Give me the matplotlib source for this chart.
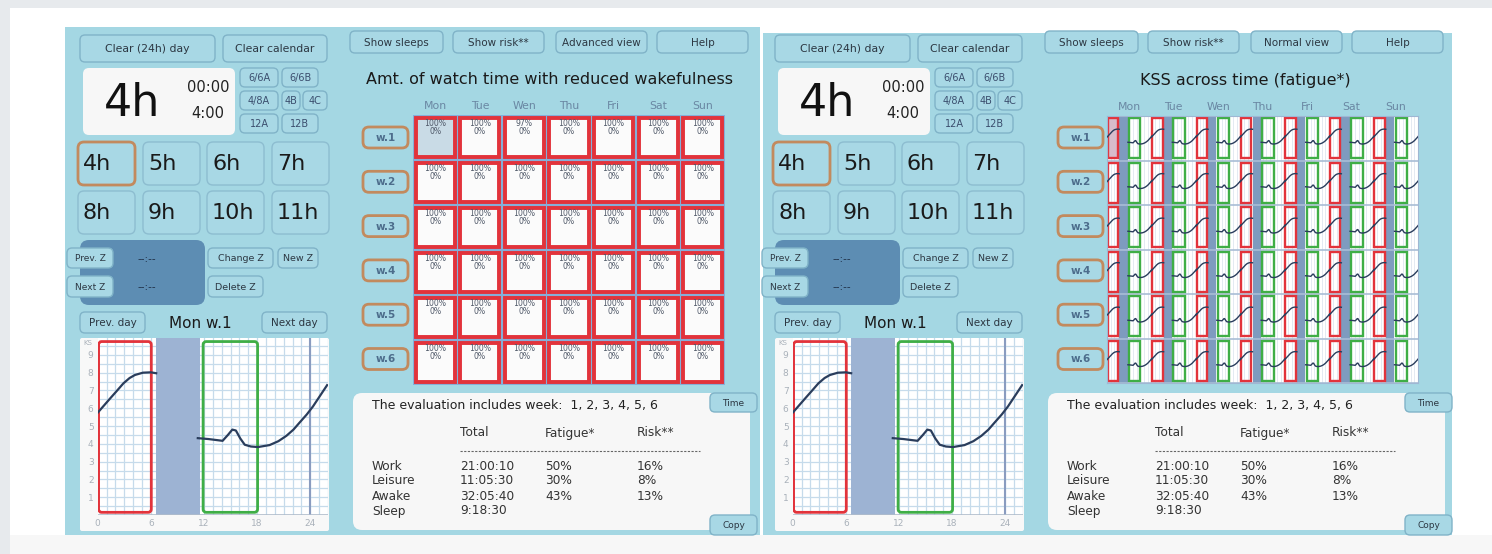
import numpy as np
import matplotlib
matplotlib.use("Agg")
import matplotlib.pyplot as plt
from matplotlib.patches import FancyBboxPatch, Rectangle

W, H = 1492, 554

# values
days = ["Mon", "Tue", "Wen", "Thu", "Fri", "Sat", "Sun"]
weeks = ["w.1", "w.2", "w.3", "w.4", "w.5", "w.6"]
watch_pct = [
    [100, 100, 97, 100, 100, 100, 100],
    [100, 100, 100, 100, 100, 100, 100],
    [100, 100, 100, 100, 100, 100, 100],
    [100, 100, 100, 100, 100, 100, 100],
    [100, 100, 100, 100, 100, 100, 100],
    [100, 100, 100, 100, 100, 100, 100],
]
risk_pct = [
    [0, 0, 0, 0, 0, 0, 0],
    [0, 0, 0, 0, 0, 0, 0],
    [0, 0, 0, 0, 0, 0, 0],
    [0, 0, 0, 0, 0, 0, 0],
    [0, 0, 0, 0, 0, 0, 0],
    [0, 0, 0, 0, 0, 0, 0],
]
hour_labels = ["4h", "5h", "6h", "7h", "8h", "9h", "10h", "11h"]
preset_labels = ["6/6A", "6/6B", "4/8A", "4B", "4C", "12A", "12B"]
shift_len = "4h"
shift_start = "00:00"
shift_dur = "4:00"
day_name = "Mon w.1"

# KSS curve of the selected day (hours, KSS)
kss_h1 = [0, 0.7, 1.4, 2.2, 2.9, 3.6, 4.2, 5.1, 6.0, 6.6]
kss_v1 = [5.75, 6.15, 6.55, 7.0, 7.4, 7.7, 7.87, 8.0, 8.02, 7.97]
kss_h2 = [11.3, 12.5, 14.1, 14.7, 15.2, 15.6, 16.1, 16.6, 17.3, 18.1, 19.4,
          20.4, 21.3, 22.1, 22.8, 23.6, 24.3, 25.1, 25.9]
kss_v2 = [4.32, 4.27, 4.17, 4.5, 4.8, 4.75, 4.3, 3.95, 3.85, 3.82, 3.93,
          4.15, 4.45, 4.8, 5.2, 5.65, 6.1, 6.7, 7.3]
work_hours = (0.1, 6.05)
sleep_hours = (6.6, 11.5)
leisure_hours = (11.9, 18.05)

eval_weeks = [1, 2, 3, 4, 5, 6]
col_names = ["Total", "Fatigue*", "Risk**"]
row_names = ["Work", "Leisure", "Awake", "Sleep"]
totals = ["21:00:10", "11:05:30", "32:05:40", "9:18:30"]
fatigue = ["50%", "30%", "43%", ""]
risk = ["16%", "8%", "13%", ""]

PANEL = '#a4d7e3'
BTN = '#a8d8e5'
BTN_EDGE = '#80b3c8'
TXT = '#2c3742'
DARK = '#5d8db3'
ORANGE = '#c28a5e'
RED = '#e2333b'
GREEN = '#3fae46'
SLEEP = '#9db3d3'
SLEEP_MINI = '#7e9bbf'
LINE = '#2a3d5c'
GRIDC = '#c6dbeb'

fig = plt.figure(figsize=(W / 100, H / 100), dpi=100, facecolor='white')
bg = fig.add_axes([0, 0, 1, 1])
bg.set_xlim(0, W)
bg.set_ylim(H, 0)
bg.axis('off')


def px_axes(x0, y0, x1, y1):
    a = fig.add_axes([x0 / W, 1 - y1 / H, (x1 - x0) / W, (y1 - y0) / H])
    a.set_xticks([])
    a.set_yticks([])
    for s in a.spines.values():
        s.set_visible(False)
    return a


def box(x0, y0, x1, y1, fc, ec='none', lw=1.0, r=4):
    bg.add_patch(FancyBboxPatch((x0, y0), x1 - x0, y1 - y0,
                                boxstyle=f"round,pad=0,rounding_size={r}",
                                fc=fc, ec=ec, lw=lw))


def button(x0, y0, x1, y1, label, fs=7.8, ec=BTN_EDGE, lw=1.0, color=TXT, r=5,
           weight='normal'):
    box(x0, y0, x1, y1, BTN, ec, lw, r)
    bg.text((x0 + x1) / 2, (y0 + y1) / 2 + 0.5, label, fontsize=fs, color=color,
            ha='center', va='center', fontweight=weight)


# page background
bg.add_patch(Rectangle((0, 0), W, 8, fc='#e7eaed', ec='none'))
bg.add_patch(Rectangle((0, 0), 10, H, fc='#e7eaed', ec='none'))
bg.add_patch(Rectangle((10, 535), W, H, fc='#f7f7f7', ec='none'))
bg.add_patch(Rectangle((65, 27), 695, 508, fc=PANEL, ec='none'))
bg.add_patch(Rectangle((763, 33), 689, 502, fc=PANEL, ec='none'))


def controls(dx):
    button(80 + dx, 35, 215 + dx, 62, "Clear (24h) day")
    button(223 + dx, 35, 327 + dx, 62, "Clear calendar")
    box(83 + dx, 68, 235 + dx, 135, '#f7f7f7', r=6)
    bg.text(132 + dx, 104, shift_len, fontsize=32, ha='center', va='center', color='#111')
    bg.text(208 + dx, 88, shift_start, fontsize=10.5, ha='center', va='center', color='#222')
    bg.text(208 + dx, 113, shift_dur, fontsize=10.5, ha='center', va='center', color='#222')
    spots = [(240, 68, 278, 87), (282, 68, 318, 87), (240, 91, 278, 110),
             (282, 91, 300, 110), (303, 91, 327, 110), (240, 114, 278, 133),
             (282, 114, 318, 133)]
    for lab, (x0, y0, x1, y1) in zip(preset_labels, spots):
        button(x0 + dx, y0, x1 + dx, y1, lab, fs=7, color='#3b4e6e')
    cols = [78, 143, 207, 272]
    rows = [142, 191]
    for k, lab in enumerate(hour_labels):
        x0 = cols[k % 4] + dx
        y0 = rows[k // 4]
        ec = ORANGE if k == 0 else '#8dbdd0'
        box(x0, y0, x0 + 57, y0 + 43, BTN, ec, 2.0 if k == 0 else 1.0, r=6)
        bg.text(x0 + 5, y0 + 22, lab, fontsize=16, ha='left', va='center', color='#1a1a1a')
    box(80 + dx, 240, 205 + dx, 305, DARK, r=9)
    button(67 + dx, 248, 113 + dx, 268, "Prev. Z", fs=6.5)
    button(67 + dx, 276, 113 + dx, 297, "Next Z", fs=6.5)
    bg.text(147 + dx, 259, "--:--", fontsize=7.5, ha='center', va='center', color='#1f3048')
    bg.text(147 + dx, 287, "--:--", fontsize=7.5, ha='center', va='center', color='#1f3048')
    button(208 + dx, 248, 273 + dx, 268, "Change Z", fs=6.8)
    button(278 + dx, 248, 318 + dx, 268, "New Z", fs=6.8)
    button(208 + dx, 276, 263 + dx, 297, "Delete Z", fs=6.8)
    button(80 + dx, 312, 145 + dx, 333, "Prev. day", fs=7.5)
    button(262 + dx, 312, 327 + dx, 333, "Next day", fs=7.5)
    bg.text(200 + dx, 323, day_name, fontsize=11, ha='center', va='center', color='#1a1a1a')


def day_chart(dx):
    box(80 + dx, 338, 329 + dx, 531, '#f8f8f8', r=2)
    c = px_axes(97.7 + dx, 338, 328 + dx, 515)
    c.set_facecolor('white')
    c.set_xlim(0, 26)
    c.set_ylim(0, 9.95)
    for h in range(1, 27):
        c.axvline(h, color=GRIDC, lw=0.9, zorder=0)
    for k in np.arange(0.5, 10, 0.5):
        c.axhline(k, color=GRIDC, lw=0.9, zorder=0)
    c.axvspan(*sleep_hours, color=SLEEP, lw=0, zorder=1)
    c.axvline(24, color='#8a9cc0', lw=1.5, zorder=1)
    c.axhline(0.02, color='#b0bccb', lw=1.2, zorder=1)
    for (a, b), col in [(work_hours, RED), (leisure_hours, GREEN)]:
        c.add_patch(FancyBboxPatch((a, 0.15), b - a, 9.6,
                                   boxstyle="round,pad=0,rounding_size=0.35",
                                   mutation_aspect=0.5, fc='none', ec=col, lw=2.0,
                                   zorder=2))
    c.plot(kss_h1, kss_v1, color=LINE, lw=1.6, zorder=3)
    c.plot(kss_h2, kss_v2, color=LINE, lw=1.6, zorder=3)
    c.set_xticks([0, 6, 12, 18, 24])
    c.set_yticks(range(1, 10))
    c.tick_params(length=0, labelsize=6.5, labelcolor='#a9b1ba', pad=3)
    bg.text(83 + dx, 343, "KS", fontsize=5, color='#a9b1ba', ha='left', va='center')


def top_bar(dx, view_label, title):
    button(350 + dx, 31, 443 + dx, 53, "Show sleeps", fs=7.5)
    button(453 + dx, 31, 544 + dx, 53, "Show risk**", fs=7.5)
    button(556 + dx, 31, 647 + dx, 53, view_label, fs=7.5)
    button(657 + dx, 31, 748 + dx, 53, "Help", fs=7.5)
    bg.text(550 + dx, 80, title, fontsize=11.5, ha='center', va='center', color='#1a1a1a')
    for i, w in enumerate(weeks):
        y0 = 127 + 44.3 * i
        button(363 + dx, y0, 408 + dx, y0 + 21, w, fs=7.5, ec=ORANGE, lw=2.0,
               color='#4d6d8c', r=6, weight='bold')


def table(dx):
    box(353 + dx, 393, 750 + dx, 530, '#f7f7f7', r=9)
    button(710 + dx, 393, 757 + dx, 412, "Time", fs=6.5)
    button(710 + dx, 515, 757 + dx, 535, "Copy", fs=6.5)
    bg.text(372 + dx, 405, "The evaluation includes week:  " + ", ".join(str(w) for w in eval_weeks),
            fontsize=9, ha='left', va='center', color='#222')
    xs = [460, 545, 637]
    for x, name in zip(xs, col_names):
        bg.text(x + dx, 433, name, fontsize=8.7, ha='left', va='center', color='#333')
    bg.plot([460 + dx, 700 + dx], [451, 451], ls=(0, (2, 1.3)), color='#666', lw=0.8)
    for r, name in enumerate(row_names):
        y = 466 + 15 * r
        bg.text(372 + dx, y, name, fontsize=8.7, ha='left', va='center', color='#333')
        for x, val in zip(xs, [totals[r], fatigue[r], risk[r]]):
            bg.text(x + dx, y, val, fontsize=8.7, ha='left', va='center', color='#333')


def watch_grid(dx):
    g = px_axes(413 + dx, 115, 725 + dx, 385)
    g.set_xlim(0, 7)
    g.set_ylim(6, 0)
    g.add_patch(Rectangle((0, 0), 7, 6, fc='#86aed8', ec='none'))
    for i in range(6):
        for j in range(7):
            fc = '#c9dbe6' if (i, j) == (0, 0) else '#fbfbfb'
            g.add_patch(Rectangle((j + 0.06, i + 0.06), 0.88, 0.88, fc=fc, ec=RED,
                                  lw=2.8, clip_on=False))
            g.text(j + 0.5, i + 0.19, f"{watch_pct[i][j]}%", fontsize=5.6, color='#4f5868',
                   ha='center', va='center')
            g.text(j + 0.5, i + 0.37, f"{risk_pct[i][j]}%", fontsize=5.6, color='#4f5868',
                   ha='center', va='center')
    for j, d in enumerate(days):
        g.text(j + 0.5, -0.2, d, fontsize=7.8, color='#6a87a3', ha='center', va='center',
               clip_on=False)


def kss_grid(dx):
    g = px_axes(412 + dx, 116, 723 + dx, 383)
    g.set_facecolor('white')
    g.set_xlim(0, 168)
    g.set_ylim(0, 75)
    for h in range(0, 169, 2):
        g.axvline(h, color='#dfe7f0', lw=0.6, zorder=0)
    for d in range(7):
        g.axvspan(24 * d + sleep_hours[0], 24 * d + sleep_hours[1] - 0.4,
                  color=SLEEP_MINI, lw=0, zorder=1)
    for i in range(6):
        base = (5 - i) * 12.5
        g.axhline(base, color='#a9bdd6', lw=1.2, zorder=1)
        for d in range(7):
            x0 = 24 * d
            fc = '#d8bccb' if (i, d) == (0, 0) else 'none'
            g.add_patch(Rectangle((x0 + work_hours[0] + 0.3, base + 0.7),
                                  work_hours[1] - work_hours[0] - 0.3, 11.1,
                                  fc=fc, ec=RED, lw=1.7, zorder=2))
            g.add_patch(Rectangle((x0 + leisure_hours[0], base + 0.7),
                                  leisure_hours[1] - leisure_hours[0], 11.1,
                                  fc='none', ec=GREEN, lw=1.7, zorder=2))
            g.plot([x0 + h for h in kss_h1], [base + 0.8 + v for v in kss_v1],
                   color=LINE, lw=1.0, zorder=3)
            h2 = [h for h in kss_h2 if h <= 24.3]
            v2 = kss_v2[:len(h2)]
            g.plot([x0 + h for h in h2], [base + 0.8 + v for v in v2],
                   color=LINE, lw=1.0, zorder=3)
    for j, d in enumerate(days):
        g.text(24 * (j + 0.5), 76.2, d, fontsize=7.8, color='#6a87a3',
               ha='center', va='bottom', clip_on=False)
    for s in g.spines.values():
        s.set_visible(True)
        s.set_color('#9fb7d3')


# left panel: normal view
controls(0)
day_chart(0)
top_bar(0, "Advanced view", "Amt. of watch time with reduced wakefulness")
watch_grid(0)
table(0)

# right panel: advanced view
controls(695)
day_chart(695)
top_bar(695, "Normal view", "KSS across time (fatigue*)")
kss_grid(695)
table(695)

fig.savefig("out.png", dpi=100, facecolor='white')
